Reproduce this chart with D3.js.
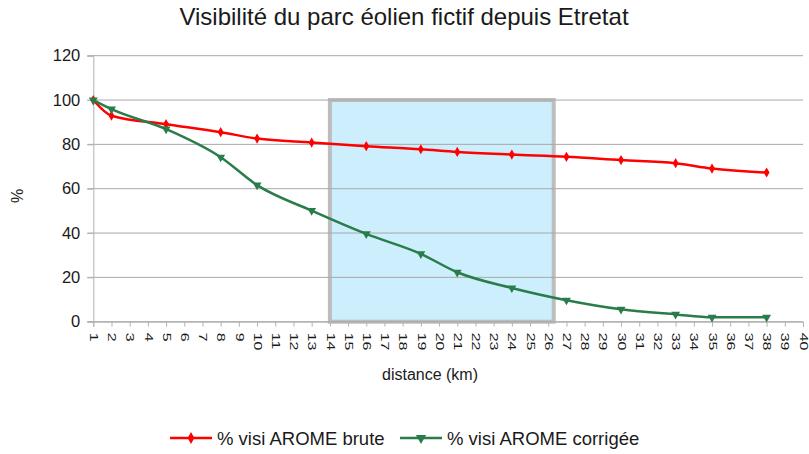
<!DOCTYPE html>
<html>
<head>
<meta charset="utf-8">
<script src="https://d3js.org/d3.v7.min.js"></script>
<style>
  body { margin: 0; background: #fff; }
  text { font-family: "Liberation Sans", Arial, sans-serif; fill: #1a1a1a; }
</style>
</head>
<body>
<svg></svg>
<script>
// data
var distances = [1, 2, 5, 8, 10, 13, 16, 19, 21, 24, 27, 30, 33, 35, 38];
var brute     = [100, 92.9, 89.1, 85.5, 82.6, 80.8, 79.2, 77.8, 76.6, 75.4, 74.4, 72.9, 71.5, 69.1, 67.3];
var corrigee  = [100, 95.9, 86.9, 74.2, 61.6, 50.1, 39.6, 30.6, 22.3, 15.2, 9.7, 5.6, 3.3, 2.0, 2.0];
var seriesNames = ["% visi AROME brute", "% visi AROME corrigée"];
var xTicks = d3.range(1, 41);
var yTicks = [0, 20, 40, 60, 80, 100, 120];
var zone = {x0: 14, x1: 26.3, y0: 0, y1: 100};

var width = 809, height = 454;
var svg = d3.select("svg").attr("width", width).attr("height", height);

var x = d3.scaleLinear().domain([1, 40]).range([93.3, 803]);
var y = d3.scaleLinear().domain([0, 120]).range([321.7, 55.7]);

// title
svg.append("text")
   .attr("x", 404).attr("y", 25)
   .attr("text-anchor", "middle")
   .style("font-size", "24px")
   .text("Visibilité du parc éolien fictif depuis Etretat");

// highlighted zone
svg.append("rect")
   .attr("x", x(zone.x0)).attr("y", y(zone.y1))
   .attr("width", x(zone.x1) - x(zone.x0))
   .attr("height", y(zone.y0) - y(zone.y1))
   .style("fill", "#cdeefc")
   .style("stroke", "#bdbdbd")
   .style("stroke-width", 4);

// horizontal grid
svg.append("g")
   .selectAll("line")
   .data(yTicks)
   .enter()
   .append("line")
   .attr("x1", x(1) - 6).attr("x2", x(40))
   .attr("y1", function(d) { return y(d); })
   .attr("y2", function(d) { return y(d); })
   .style("stroke", "#a8a8a8")
   .style("stroke-width", 1);

// y axis
var yAxis = svg.append("g")
   .attr("transform", "translate(" + x(1) + ",0)")
   .call(d3.axisLeft(y).tickValues(yTicks).tickSize(6).tickPadding(7));
yAxis.select(".domain").style("stroke", "#b3b3b3");
yAxis.selectAll(".tick line").style("stroke", "#b3b3b3");
yAxis.selectAll("text").style("font-size", "16.5px").attr("fill", "#1a1a1a");

// x axis
var xAxis = svg.append("g")
   .attr("transform", "translate(0," + y(0) + ")")
   .call(d3.axisBottom(x).tickValues(xTicks).tickSize(5).tickFormat(d3.format("d")));
xAxis.select(".domain").style("stroke", "#b3b3b3");
xAxis.selectAll(".tick line").style("stroke", "#b3b3b3");
xAxis.selectAll("text")
   .attr("y", 0).attr("dy", "0.35em")
   .attr("text-anchor", "start")
   .attr("transform", "translate(0,11) rotate(90) scale(1.45,1)")
   .style("font-size", "11px")
   .attr("fill", "#1a1a1a");

// axis titles
svg.append("text")
   .attr("transform", "translate(23,196) rotate(-90)")
   .attr("text-anchor", "middle")
   .style("font-size", "16px")
   .text("%");
svg.append("text")
   .attr("x", 430).attr("y", 380)
   .attr("text-anchor", "middle")
   .style("font-size", "16px")
   .text("distance (km)");

// lines
var line = d3.line()
   .x(function(d) { return x(d[0]); })
   .y(function(d) { return y(d[1]); })
   .curve(d3.curveMonotoneX);

var colors = ["#ff0000", "#2a7c4b"];
var symbols = [d3.symbolDiamond, d3.symbolTriangle];
var allSeries = [brute, corrigee];

allSeries.forEach(function(vals, k) {
  var pts = distances.map(function(d, i) { return [d, vals[i]]; });
  svg.append("path")
     .datum(pts)
     .attr("d", line)
     .style("fill", "none")
     .style("stroke", colors[k])
     .style("stroke-width", 2.5);
  svg.append("g")
     .selectAll("path")
     .data(pts)
     .enter()
     .append("path")
     .attr("d", d3.symbol().type(symbols[k]).size(k == 0 ? 30 : 34))
     .attr("transform", function(d) {
        return "translate(" + x(d[0]) + "," + y(d[1]) + ")" + (k == 1 ? " rotate(180)" : "");
     })
     .style("fill", colors[k]);
});

// legend
var legendX = [170, 400];
seriesNames.forEach(function(name, k) {
  var g = svg.append("g").attr("transform", "translate(" + legendX[k] + ",438)");
  g.append("line").attr("x1", 0).attr("x2", 42).attr("y1", 0).attr("y2", 0)
   .style("stroke", colors[k]).style("stroke-width", 2.5);
  g.append("path")
   .attr("d", d3.symbol().type(symbols[k]).size(k == 0 ? 40 : 46))
   .attr("transform", "translate(21,0)" + (k == 1 ? " rotate(180)" : ""))
   .style("fill", colors[k]);
  g.append("text")
   .attr("x", 47).attr("y", 0).attr("dy", "0.36em")
   .style("font-size", "18.5px")
   .text(name);
});
</script>
</body>
</html>
